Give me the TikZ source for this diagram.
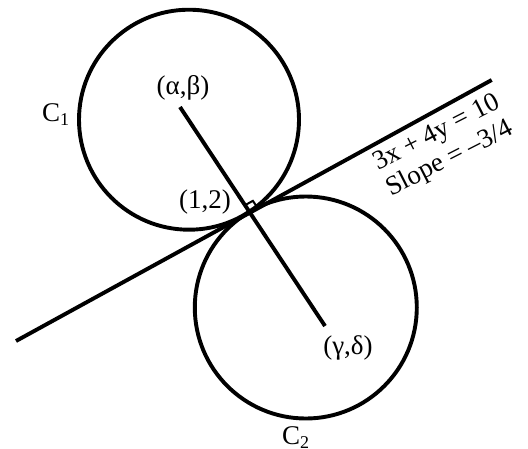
\documentclass[tikz,border=0pt]{standalone}
\usepackage{fontspec}
\setmainfont{Liberation Serif}
\usetikzlibrary{calc}
\newcommand\subsc[1]{\raisebox{-4pt}{\fontsize{18}{18}\selectfont #1}}
\begin{document}
\begin{tikzpicture}[x=1pt,y=-1pt,
  curve/.style={line width=3.9pt},
  rtmark/.style={line width=2pt},
  lbl/.style={font=\fontsize{27}{29}\selectfont, inner sep=0pt}]
\useasboundingbox (0,0) rectangle (528,448);
\coordinate (L1) at (16,341);
\coordinate (L2) at (491.7,80);
\coordinate (A) at (180,107);
\coordinate (B) at (325,326);
\coordinate (T) at (intersection of L1--L2 and A--B);
\coordinate (O1) at (189,119.7);
\coordinate (O2) at (305.8,307.5);
\draw[curve] (O1) circle [radius=110pt];
\draw[curve] (O2) circle [radius=111pt];
\draw[curve] (L1) -- (L2);
\draw[curve] (A) -- (B);
\coordinate (P) at ($(T)!9pt!(A)$);
\coordinate (Q) at ($(T)!9pt!(L2)$);
\coordinate (R) at ($(P)+(Q)-(T)$);
\draw[rtmark] (P) -- (R) -- (Q);
\node[lbl] (ab) at (183,88) {(α,β)};
\node[lbl] (p12) at (205,202) {(1,2)};
\node[lbl] (gd) at (348,348) {(γ,δ)};
\node[lbl,anchor=base west] (c1) at (42,121.7) {C\subsc{1}};
\node[lbl,anchor=base west] (c2) at (282,444) {C\subsc{2}};
\node[lbl,rotate=27,align=center] (eq) at (443.5,146.5) {3x + 4y = 10\\Slope = –3/4};
\end{tikzpicture}
\end{document}
